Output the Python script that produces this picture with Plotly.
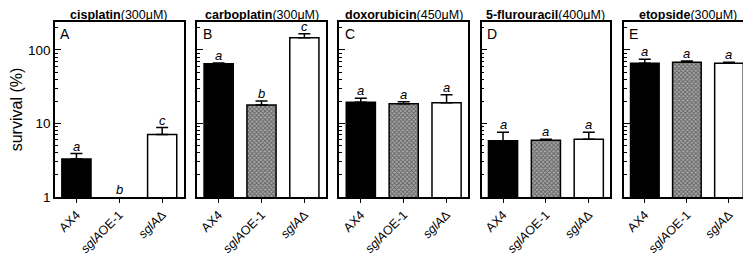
import math
import plotly.graph_objects as go
from plotly.subplots import make_subplots

drugs = ["cisplatin", "carboplatin", "doxorubicin", "5-flurouracil", "etopside"]
doses = ["(300μM)", "(300μM)", "(450μM)", "(400μM)", "(300μM)"]
panel_letters = ["A", "B", "C", "D", "E"]
strains = ["AX4", "<i>sglA</i>OE-1", "<i>sglA</i>Δ"]

ax4_vals = [3.3, 65, 19.4, 5.8, 66]
oe_vals = [None, 17.8, 18.6, 5.9, 68]
ko_vals = [7.1, 147, 19.2, 6.1, 66]

ax4_err = [0.6, 1.5, 2.6, 1.8, 9]
oe_err = [0, 2.4, 1.2, 0.2, 3]
ko_err = [1.7, 19, 5.4, 1.5, 2]

sig_ax4 = ["a", "a", "a", "a", "a"]
sig_oe = ["b", "b", "a", "a", "a"]
sig_ko = ["c", "c", "a", "a", "a"]

FONT = "Arial, Liberation Sans, sans-serif"

# page body has an 8px margin; size the figure so it fits the 751x256 window
W, H = 743, 248
ml, mr, mt, mb = 47, 1, 14, 59
pw = W - ml - mr
panel_w = 128.6 / pw
gap = 13.6 / pw

fig = make_subplots(rows=1, cols=5, horizontal_spacing=gap)

for i in range(5):
    col = i + 1
    vals = [ax4_vals[i], oe_vals[i], ko_vals[i]]
    errs = [ax4_err[i], oe_err[i], ko_err[i]]
    colors = ["black", "#8a8a8a", "white"]
    for j in range(3):
        if vals[j] is None:
            continue
        marker = dict(color=colors[j], line=dict(color="black", width=1.5))
        if j == 1:
            marker["pattern"] = dict(shape="x", size=3, solidity=0.5,
                                     fgcolor="#1a1a1a", bgcolor="#a8a8a8")
        fig.add_trace(go.Bar(
            x=[j], y=[vals[j]], width=0.68, marker=marker,
            error_y=dict(type="data", array=[errs[j]], arrayminus=[0],
                         symmetric=False, color="black", thickness=1.5, width=6),
            showlegend=False), row=1, col=col)
    sigs = [sig_ax4[i], sig_oe[i], sig_ko[i]]
    xref = "x" if i == 0 else f"x{col}"
    yref = "y" if i == 0 else f"y{col}"
    for j in range(3):
        ypos = 0 if vals[j] is None else math.log10(vals[j] + errs[j])
        fig.add_annotation(x=j, y=ypos, xref=xref, yref=yref, text=sigs[j],
                           showarrow=False, yanchor="bottom", yshift=0,
                           borderpad=0, height=13,
                           font=dict(family=FONT, size=13, color="black",
                                     style="italic"))
    fig.add_annotation(x=-0.42, y=math.log10(240), xref=xref, yref=yref,
                       text=panel_letters[i], showarrow=False,
                       xanchor="left", yanchor="top", yshift=-2,
                       font=dict(family=FONT, size=14, color="black"))
    x0 = i * (panel_w + gap)
    fig.add_annotation(x=x0 + panel_w / 2, y=1, xref="paper", yref="paper",
                       text=f"<b>{drugs[i]}</b>{doses[i]}", showarrow=False,
                       xanchor="center", yanchor="top", yshift=mt + 1,
                       borderpad=0, height=14,
                       font=dict(family=FONT, size=12.5, color="black"))
    dom = [x0, min(x0 + panel_w, 1)]
    fig.update_xaxes(domain=dom, range=[-0.5, 2.5], tickvals=[0, 1, 2],
                     ticktext=strains, tickangle=-45, ticks="outside",
                     ticklen=4, tickwidth=1.2, tickcolor="black",
                     showline=True, linecolor="black", linewidth=1.5,
                     mirror=True, showgrid=False, zeroline=False,
                     automargin=False,
                     tickfont=dict(family=FONT, size=12.5, color="black"),
                     row=1, col=col)
    fig.update_yaxes(type="log", range=[0, math.log10(240)],
                     ticks="inside", ticklen=6, tickwidth=1.2,
                     tickcolor="black", showline=True, linecolor="black",
                     linewidth=1.5, mirror=True, showgrid=False,
                     zeroline=False, showticklabels=(i == 0),
                     tickvals=[1, 10, 100], ticktext=["1", "10", "100"],
                     automargin=False,
                     tickfont=dict(family=FONT, size=13.5, color="black"),
                     minor=dict(ticks="inside", ticklen=3, tickwidth=1,
                                tickcolor="black", dtick="D1", showgrid=False),
                     row=1, col=col)

fig.update_yaxes(title=dict(text="survival (%)", standoff=6,
                            font=dict(family=FONT, size=16, color="black")),
                 row=1, col=1)

fig.update_layout(width=W, height=H, margin=dict(l=ml, r=mr, t=mt, b=mb),
                  plot_bgcolor="white", paper_bgcolor="white",
                  font=dict(family=FONT, color="black"))

fig.write_html("out.html")
